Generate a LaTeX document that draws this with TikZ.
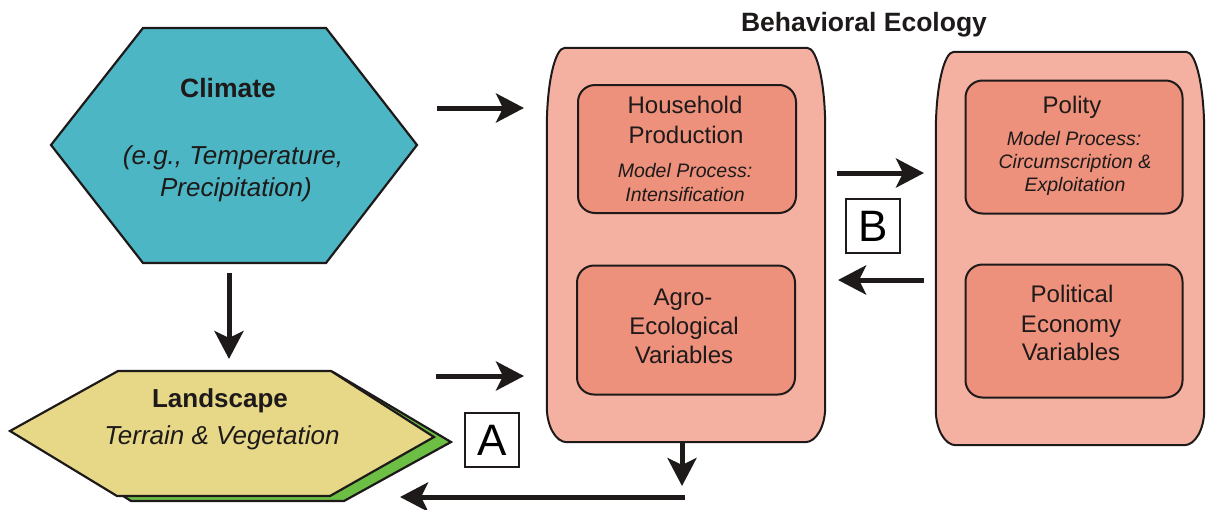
\documentclass[tikz,border=0pt]{standalone}
\usepackage{fontspec}
\setmainfont{Liberation Sans}
\usetikzlibrary{arrows.meta}
\definecolor{climcol}{RGB}{77,182,196}
\definecolor{landcol}{RGB}{230,216,135}
\definecolor{greencol}{RGB}{108,190,69}
\definecolor{outercol}{RGB}{244,176,160}
\definecolor{innercol}{RGB}{237,145,124}
\definecolor{inkcol}{RGB}{30,26,26}
\newcommand\drawouterbox[1]{%
  \path[draw=inkcol, line width=2pt, fill=outercol]
    ([yshift=-80pt]#1.north west) .. controls ([yshift=-36pt]#1.north west) and ([xshift=8pt]#1.north west) .. ([xshift=18pt]#1.north west)
    -- ([xshift=-18pt]#1.north east) .. controls ([xshift=-8pt]#1.north east) and ([yshift=-36pt]#1.north east) .. ([yshift=-80pt]#1.north east)
    -- ([yshift=35pt]#1.south east) .. controls ([yshift=16pt]#1.south east) and ([xshift=-9pt]#1.south east) .. ([xshift=-20pt]#1.south east)
    -- ([xshift=20pt]#1.south west) .. controls ([xshift=9pt]#1.south west) and ([yshift=16pt]#1.south west) .. ([yshift=35pt]#1.south west)
    -- cycle;}
\begin{document}
\begin{tikzpicture}[x=1pt,y=-1pt,
  conn/.style={draw=inkcol, line width=5pt, -{Stealth[length=28pt,width=29pt,inset=7pt]}},
  outerbox/.style={inner sep=0pt, minimum height=394pt},
  innerbox/.style={draw=inkcol, line width=2pt, fill=innercol, rounded corners=17pt, inner sep=0pt, minimum width=218pt},
  shapeline/.style={draw=inkcol, line width=2.2pt, line join=miter},
  lbox/.style={draw=inkcol, line width=1.6pt, fill=white, minimum width=54pt, minimum height=54pt, inner sep=0pt, font=\fontsize{44}{44}\selectfont},
  tnorm/.style={anchor=base, inner sep=0pt, text=inkcol, font=\fontsize{24}{24}\selectfont},
  tital/.style={anchor=base, inner sep=0pt, text=inkcol, font=\fontsize{19.5}{19.5}\selectfont\itshape},
  tbold/.style={anchor=base, inner sep=0pt, text=inkcol, font=\fontsize{26.5}{26.5}\selectfont\bfseries},
  tbig/.style={anchor=base, inner sep=0pt, text=inkcol, font=\fontsize{26}{26}\selectfont\itshape}
]
\useasboundingbox (0,0) rectangle (1206,509);

% Climate hexagon
\path[shapeline, fill=climcol] (143,28) -- (326,28) -- (417,145) -- (326,263) -- (143,263) -- (51,145) -- cycle;
\node[tbold] (climt) at (228,97) {Climate};
\node[tbig] (climeg) at (233,164) {(e.g., Temperature,};
\node[tbig] (climpr) at (236,196) {Precipitation)};

% Landscape hexagon with green shadow
\path[shapeline, fill=greencol] (120,374) -- (333,372) -- (451,442) -- (344,501) -- (131,501) -- (30,436) -- cycle;
\path[shapeline, fill=landcol] (118,371) -- (331,371) -- (434,437) -- (330,496) -- (117,496) -- (10,431) -- cycle;
\node[tbold, font=\fontsize{26}{26}\selectfont\bfseries] (landt) at (220,407) {Landscape};
\node[tbig] (lands) at (222,444) {Terrain \& Vegetation};

% Behavioral ecology title
\node[tbold, font=\fontsize{26.5}{26.5}\selectfont\bfseries] (betitle) at (864,31) {Behavioral Ecology};

% Outer boxes
\node[outerbox, minimum width=278pt] (be) at (686,245) {};
\node[outerbox, minimum width=268pt, minimum height=393pt] (pol) at (1070,248.5) {};
\drawouterbox{be}
\drawouterbox{pol}

% Inner boxes
\node[innerbox, minimum height=128pt] (hp) at (687,149) {};
\node[innerbox, minimum height=129pt] (agro) at (686,330) {};
\node[innerbox, minimum width=217pt, minimum height=133pt] (polity) at (1074,147) {};
\node[innerbox, minimum width=217pt, minimum height=133pt] (pe) at (1074,331) {};

% Texts in inner boxes
\node[tnorm] (hp1) at (685,113) {Household};
\node[tnorm] (hp2) at (686,143) {Production};
\node[tital] (hp3) at (685,177) {Model Process:};
\node[tital] (hp4) at (685,201) {Intensification};

\node[tnorm] (ag1) at (683,305) {Agro-};
\node[tnorm] (ag2) at (684,334) {Ecological};
\node[tnorm] (ag3) at (684,363) {Variables};

\node[tnorm] (po1) at (1072,113) {Polity};
\node[tital] (po2) at (1074,145) {Model Process:};
\node[tital] (po3) at (1075,168) {Circumscription \&};
\node[tital] (po4) at (1075,191) {Exploitation};

\node[tnorm] (pe1) at (1072,302) {Political};
\node[tnorm] (pe2) at (1071,332) {Economy};
\node[tnorm] (pe3) at (1071,360) {Variables};

% Letter boxes
\node[lbox] (boxA) at (492,440) {\raisebox{-1pt}{A}};
\node[lbox] (boxB) at (873,226) {\raisebox{-1pt}{B}};

% Connector end points
\coordinate (c1s) at (437,108);
\coordinate (c1e) at (524,108);
\coordinate (c2s) at (229,273);
\coordinate (c2e) at (229,359);
\coordinate (c3s) at (436,376);
\coordinate (c3e) at (524,376);
\coordinate (c4s) at (837,173);
\coordinate (c4e) at (924,173);
\coordinate (c5s) at (924,280);
\coordinate (c5e) at (838,280);
\coordinate (c6s) at (682,443);
\coordinate (c6e) at (682,486);
\coordinate (c7s) at (685,497);
\coordinate (c7e) at (400,497);

\draw[conn] (c1s) -- (c1e);
\draw[conn] (c2s) -- (c2e);
\draw[conn] (c3s) -- (c3e);
\draw[conn] (c4s) -- (c4e);
\draw[conn] (c5s) -- (c5e);
\draw[conn] (c6s) -- (c6e);
\draw[conn] (c7s) -- (c7e);
\end{tikzpicture}
\end{document}
